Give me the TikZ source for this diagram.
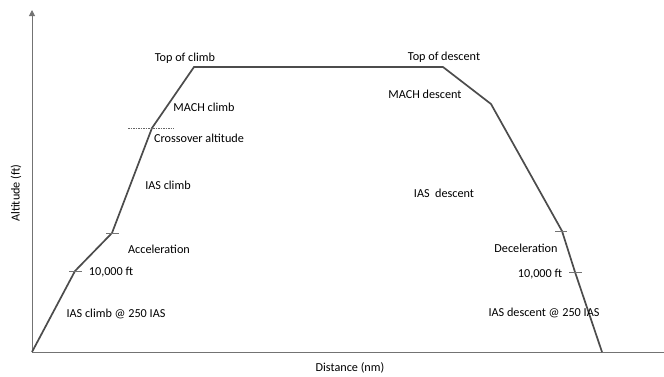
\documentclass[tikz,border=0pt]{standalone}
\usepackage{fontspec}
\setmainfont{Carlito}
\usetikzlibrary{positioning, arrows.meta}
\tikzset{
	axisLine/.style={draw=black!55, line width=1pt},
	profileLine/.style={draw=black!70, line width=1.7pt, line join=miter},
	tickMark/.style={draw=black!55, line width=0.9pt},
	crossLine/.style={draw=black!60, dashed, dash pattern=on 1.5pt off 1pt, line width=0.6pt},
	lbl/.style={inner sep=0pt, font=\fontsize{12.2}{14}\selectfont, text=black}
}

\begin{document}
\begin{tikzpicture}[x=1pt, y=-1pt]
        \useasboundingbox (0,0) rectangle (664,376);

        % axes
        \coordinate (o) at (32, 352);
        \coordinate (ytop) at (32, 10);
        \coordinate (xend) at (664, 352);
        \draw[axisLine, -{Triangle[length=6pt, width=6pt]}] (o) -- (ytop);
        \draw[axisLine] (o) -- (xend);

        % profile points
        \coordinate (p10a) at (75, 271);
        \coordinate (acc) at (112, 233);
        \coordinate (cross) at (152, 128);
        \coordinate (toc) at (194, 67);
        \coordinate (tod) at (443, 67);
        \coordinate (mach) at (491, 104);
        \coordinate (dec) at (562, 231);
        \coordinate (p10d) at (575, 272);
        \coordinate (land) at (602, 352);

        \draw[profileLine] (o) -- (p10a) -- (acc) -- (cross) -- (toc)
                -- (tod) -- (mach) -- (dec) -- (p10d) -- (land);

        % tick marks
        \draw[tickMark] ([xshift=-6pt]p10a) -- ([xshift=7pt]p10a);
        \draw[tickMark] ([xshift=-6pt]acc) -- ([xshift=7pt]acc);
        \draw[tickMark] ([xshift=-7pt]dec) -- ([xshift=5pt]dec);
        \draw[tickMark] ([xshift=-6pt]p10d) -- ([xshift=7pt]p10d);
        \draw[crossLine] ([xshift=-24pt]cross) -- ([xshift=22pt]cross);

        % labels
        \node[lbl] (ltoc) at (185, 58) {Top of climb};
        \node[lbl] (lmc) at (204, 107) {MACH climb};
        \node[lbl] (lcross) at (199, 138) {Crossover altitude};
        \node[lbl] (lias) at (168, 185) {IAS climb};
        \node[lbl] (lacc) at (159, 249) {Acceleration};
        \node[lbl] (l10a) at (111, 272) {10,000 ft};
        \node[lbl] (l250a) at (116, 314) {IAS climb @ 250 IAS};

        \node[lbl] (ltod) at (444, 57) {Top of descent};
        \node[lbl] (lmd) at (425, 94) {MACH descent};
        \node[lbl] (liasd) at (444, 193) {IAS\ \ descent};
        \node[lbl] (ldec) at (526, 248) {Deceleration};
        \node[lbl] (l10d) at (540, 274) {10,000 ft};
        \node[lbl] (l250d) at (544, 313) {IAS descent @ 250 IAS};

        \node[lbl] (xlab) at (350, 368) {Distance (nm)};
        \node[lbl, rotate=90] (ylab) at (16, 193) {Altitude (ft)};

    \end{tikzpicture}
\end{document}
